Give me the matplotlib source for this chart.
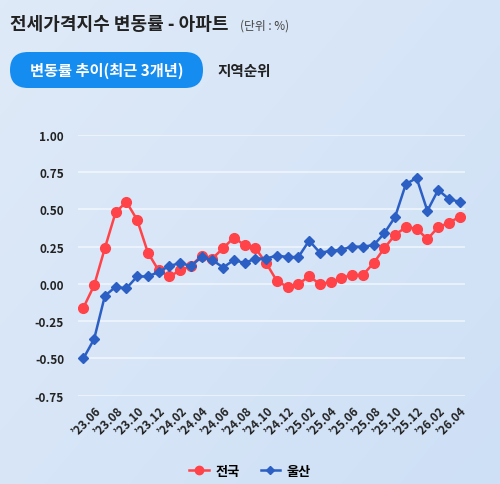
import matplotlib
matplotlib.use("Agg")
import matplotlib.pyplot as plt
import numpy as np
from matplotlib.patches import FancyBboxPatch
from matplotlib.lines import Line2D

plt.rcParams["font.family"] = ["Noto Sans CJK KR", "DejaVu Sans"]

# monthly data, '23.05 .. '26.04
months = ["'23.05", "'23.06", "'23.07", "'23.08", "'23.09", "'23.10", "'23.11", "'23.12",
          "'24.01", "'24.02", "'24.03", "'24.04", "'24.05", "'24.06", "'24.07", "'24.08",
          "'24.09", "'24.10", "'24.11", "'24.12", "'25.01", "'25.02", "'25.03", "'25.04",
          "'25.05", "'25.06", "'25.07", "'25.08", "'25.09", "'25.10", "'25.11", "'25.12",
          "'26.01", "'26.02", "'26.03", "'26.04"]
nation = [-0.16, -0.01, 0.24, 0.48, 0.55, 0.43, 0.21, 0.09, 0.05, 0.09, 0.12, 0.19,
          0.17, 0.24, 0.31, 0.26, 0.24, 0.14, 0.02, -0.02, 0.00, 0.05, 0.00, 0.01,
          0.04, 0.06, 0.06, 0.14, 0.24, 0.33, 0.38, 0.37, 0.30, 0.38, 0.41, 0.45]
ulsan = [-0.50, -0.37, -0.08, -0.02, -0.03, 0.05, 0.05, 0.08, 0.12, 0.14, 0.12, 0.18,
         0.16, 0.11, 0.16, 0.14, 0.17, 0.17, 0.19, 0.18, 0.18, 0.29, 0.21, 0.22,
         0.23, 0.25, 0.25, 0.26, 0.34, 0.45, 0.67, 0.71, 0.49, 0.63, 0.57, 0.55]
yticks = [1.00, 0.75, 0.50, 0.25, 0.00, -0.25, -0.50, -0.75]

RED = "#ff4348"
BLUE = "#2b5fc4"
TXT = "#222222"

fig = plt.figure(figsize=(5, 4.85), dpi=100)

# background gradient
bg = fig.add_axes([0, 0, 1, 1], zorder=-10)
gx, gy = np.meshgrid(np.linspace(0, 1, 200), np.linspace(0, 1, 200))
t = np.clip(0.55 * gx + 0.45 * gy, 0, 1)
c0 = np.array([0.875, 0.918, 0.973])
c1 = np.array([0.808, 0.878, 0.965])
img = c0[None, None, :] * (1 - t[..., None]) + c1[None, None, :] * t[..., None]
bg.imshow(img, extent=[0, 1, 0, 1], aspect="auto", origin="upper")
bg.axis("off")

# header overlay in pixel units
ov = fig.add_axes([0, 0, 1, 1], zorder=5)
ov.set_xlim(0, 500)
ov.set_ylim(485, 0)
ov.axis("off")
ov.text(10, 25, "전세가격지수 변동률 - 아파트", fontsize=13, fontweight="bold",
        color=TXT, va="center", ha="left")
ov.text(240, 26, "(단위 : %)", fontsize=8.5, color="#444444", va="center", ha="left")
ov.add_patch(FancyBboxPatch((10, 53), 193, 36, boxstyle="round,pad=0,rounding_size=18",
                            fc="#158cf0", ec="none"))
ov.text(106.5, 71, "변동률 추이(최근 3개년)", fontsize=11, fontweight="bold",
        color="white", va="center", ha="center")
ov.text(217, 71, "지역순위", fontsize=10.5, fontweight="bold", color=TXT,
        va="center", ha="left")

ax = fig.add_axes([0.156, 0.182, 0.774, 0.538])
ax.set_facecolor("none")
x = np.arange(len(months))
ax.plot(x, nation, color=RED, lw=1.8, marker="o", ms=7, label="전국", zorder=3)
ax.plot(x, ulsan, color=BLUE, lw=1.8, marker="D", ms=5, label="울산", zorder=4)

ax.set_xlim(-0.5, len(months) - 0.5)
ax.set_ylim(-0.75, 1.0)
ax.set_yticks(yticks)
ax.set_yticklabels([f"{v:.2f}" for v in yticks], fontsize=8.5, fontweight="bold", color=TXT)
ax.set_xticks(x[1::2])
ax.set_xticklabels([m.replace("'", "\u2019") for m in months[1::2]], rotation=45,
                   ha="right", rotation_mode="anchor", fontsize=8.5, fontweight="bold", color=TXT)
ax.tick_params(length=0, pad=6)
ax.tick_params(axis="y", pad=10)
ax.grid(axis="y", color="white", alpha=0.6, lw=1.2)
ax.grid(axis="x", visible=False)
for s in ax.spines.values():
    s.set_visible(False)

handles = [Line2D([], [], color=RED, lw=1.8, marker="o", ms=6),
           Line2D([], [], color=BLUE, lw=1.8, marker="D", ms=4.5)]
fig.legend(handles, ["전국", "울산"], loc="center", bbox_to_anchor=(0.5, 1 - 472 / 485),
           ncol=2, frameon=False, handlelength=1.5, columnspacing=1.6, handletextpad=0.5,
           prop={"size": 9.5, "weight": "bold"})

fig.savefig("out.png", dpi=100)
